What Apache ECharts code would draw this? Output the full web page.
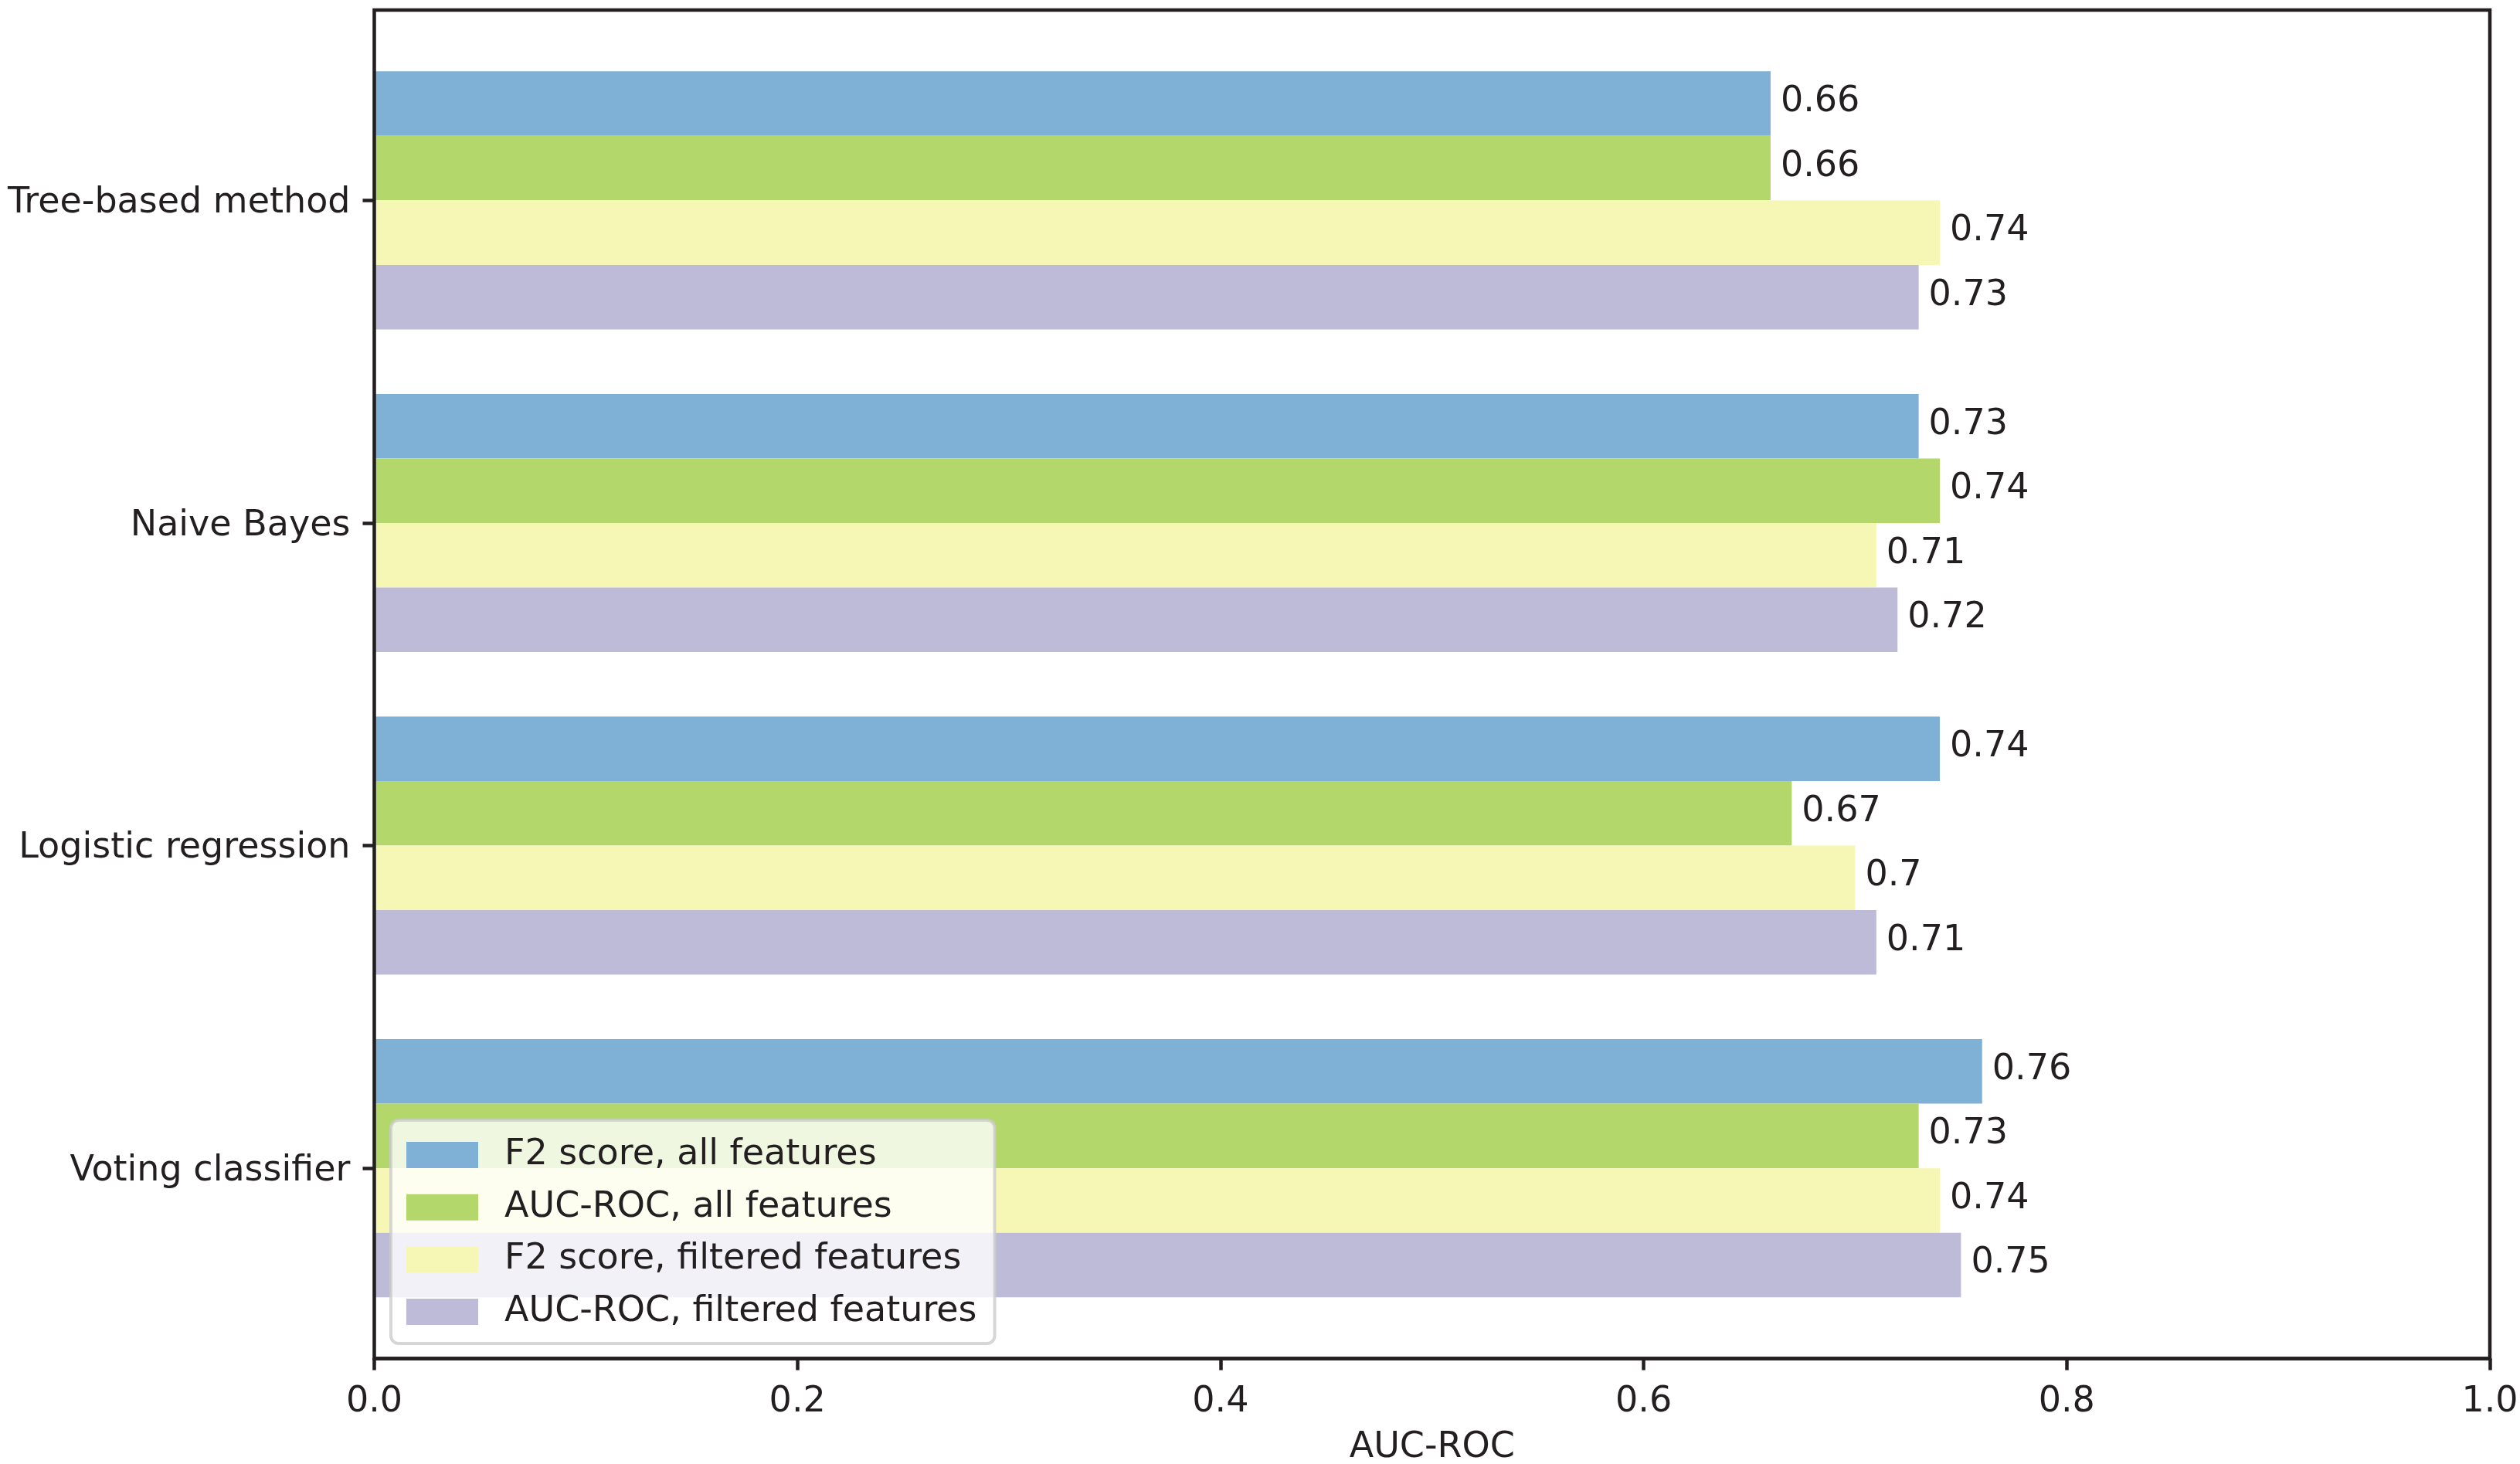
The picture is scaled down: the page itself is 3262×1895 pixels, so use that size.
<!DOCTYPE html>
<html>
<head>
<meta charset="utf-8">
<script src="https://cdn.jsdelivr.net/npm/echarts@6/dist/echarts.min.js"></script>
<style>
html,body{margin:0;padding:0;background:#fff;}
#chart{width:3262px;height:1895px;}
</style>
</head>
<body>
<div id="chart"></div>
<script>
const categories = ['Tree-based method', 'Naive Bayes', 'Logistic regression', 'Voting classifier'];
const seriesNames = ['F2 score, all features', 'AUC-ROC, all features', 'F2 score, filtered features', 'AUC-ROC, filtered features'];
const f2All = [0.66, 0.73, 0.74, 0.76];
const aucAll = [0.66, 0.74, 0.67, 0.73];
const f2Filtered = [0.74, 0.71, 0.70, 0.74];
const aucFiltered = [0.73, 0.72, 0.71, 0.75];
const xTicks = [0.0, 0.2, 0.4, 0.6, 0.8, 1.0];
const xAxisTitle = 'AUC-ROC';

const colors = ['#7fb0d5', '#b4d76c', '#f7f7b5', '#bebbd8'];
const seriesData = [f2All, aucAll, f2Filtered, aucFiltered];
const ink = '#231f20';
const FONT = 'DejaVu Sans';
const FS = 46;

const chart = echarts.init(document.getElementById('chart'), null, {renderer: 'canvas'});

const L = 484.5, R = 3223, T = 13, B = 1758.5;
const unit = (B - T) / 4.18;
const barTop = T + 0.09 * unit;

const option = {
  backgroundColor: '#ffffff',
  animation: false,
  textStyle: {fontFamily: FONT},
  grid: [
    {left: L, top: T, width: R - L, height: B - T, show: true, z: 10,
     outerBoundsMode: 'none', containLabel: false,
     borderColor: ink, borderWidth: 4.5, backgroundColor: 'rgba(0,0,0,0)'},
    {left: L, top: barTop, width: R - L, height: 4 * unit,
     outerBoundsMode: 'none', containLabel: false}
  ],
  xAxis: [
    {type: 'value', gridIndex: 0, min: xTicks[0], max: xTicks[xTicks.length - 1], interval: 0.2,
     name: xAxisTitle, nameLocation: 'middle', nameGap: 93,
     nameTextStyle: {fontSize: FS, color: ink, fontFamily: FONT},
     axisLine: {show: true, lineStyle: {color: ink, width: 4.5}},
     axisTick: {show: true, length: 15, lineStyle: {color: ink, width: 4.5}},
     axisLabel: {fontSize: FS, color: ink, margin: 34, fontFamily: FONT,
       formatter: v => Number(v).toFixed(1)},
     splitLine: {show: false}, z: 10},
    {type: 'value', gridIndex: 1, min: 0, max: 1, show: false}
  ],
  yAxis: [
    {type: 'value', gridIndex: 0, min: 0, max: 1, show: false},
    {type: 'category', gridIndex: 1, data: categories, inverse: true,
     axisLine: {show: false},
     axisTick: {show: true, alignWithLabel: true, length: 15, lineStyle: {color: ink, width: 4.5}},
     axisLabel: {fontSize: FS, color: ink, margin: 31, fontFamily: FONT,
       verticalAlign: 'top', lineHeight: 8},
     splitLine: {show: false}}
  ],
  legend: {
    orient: 'vertical', left: 506, top: 1450,
    data: seriesNames,
    icon: 'rect', itemWidth: 93, itemHeight: 34, itemGap: 21.7,
    textStyle: {fontSize: FS, color: ink, fontFamily: FONT, padding: [0, 0, 0, 29]},
    padding: [22, 23, 18, 20],
    backgroundColor: 'rgba(255,255,255,0.8)',
    borderColor: 'rgba(204,204,204,0.8)', borderWidth: 4, borderRadius: 10
  },
  series: seriesNames.map((name, i) => ({
    name: name, type: 'bar', xAxisIndex: 1, yAxisIndex: 1,
    data: seriesData[i],
    barGap: '0%', barCategoryGap: '20%',
    itemStyle: {color: colors[i]},
    label: {show: true, position: 'right', distance: 13, offset: [0, -2],
      fontSize: FS, color: ink, fontFamily: FONT,
      formatter: p => String(p.value)}
  }))
};
chart.setOption(option);
</script>
</body>
</html>
